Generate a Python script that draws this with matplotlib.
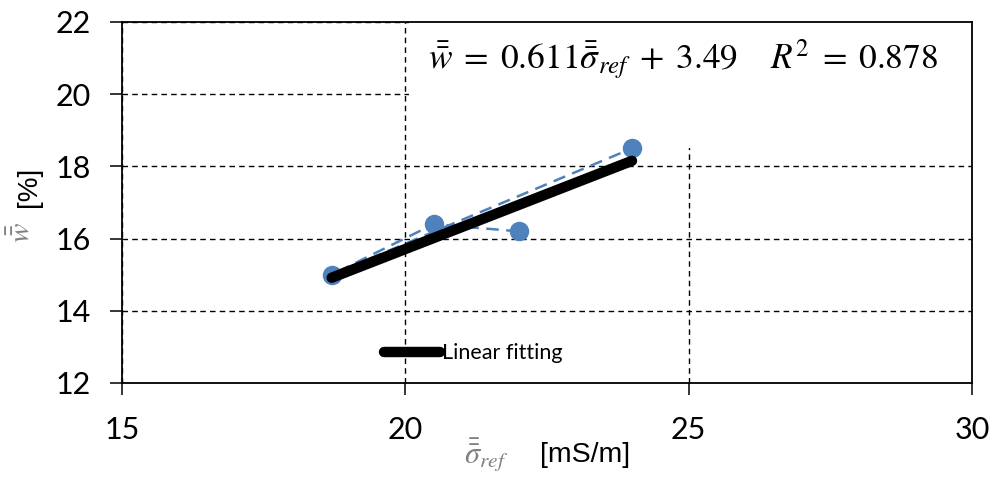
import numpy as np
import matplotlib.pyplot as plt
from matplotlib.patches import Rectangle

plt.rcParams['font.family'] = ['Lato', 'DejaVu Sans']
plt.rcParams['mathtext.fontset'] = 'stix'

# data (in plotted order)
sigma_ref = [22.0, 20.5, 18.7, 24.0]
w_mean = [16.2, 16.4, 15.0, 18.5]

# linear fit given on the chart
slope = 0.611
intercept = 3.49
r_squared = 0.878
fit_x = [min(sigma_ref), max(sigma_ref)]

x_ticks = [15, 20, 25, 30]
y_ticks = [12, 14, 16, 18, 20, 22]

fig = plt.figure(figsize=(9.95, 4.82), dpi=100)
ax = fig.add_axes([0.1226, 0.2054, 0.8543, 0.7490])

ax.set_xlim(15, 30)
ax.set_ylim(12, 22)
ax.set_xticks(x_ticks)
ax.set_yticks(y_ticks)
ax.tick_params(axis='both', direction='out', length=8.5, width=1.1,
               labelsize=22, color='black')
ax.tick_params(axis='x', pad=15)
ax.tick_params(axis='y', pad=14)
for s in ax.spines.values():
    s.set_linewidth(1.3)
    s.set_zorder(2.5)

ax.set_axisbelow(True)
ax.grid(True, color='black', linestyle=(0, (4, 3)), linewidth=1.0)

# white box behind the equation hides part of the grid
ax.add_patch(Rectangle((20.06, 18.5), 9.94, 3.5, facecolor='white',
                       edgecolor='none', zorder=1))

ax.plot(sigma_ref, w_mean, color='#4F81BD', linestyle=(0, (5, 3)),
        linewidth=1.8, marker='o', markersize=13, zorder=3)

fit_y = [slope * v + intercept for v in fit_x]
fit_line, = ax.plot(fit_x, fit_y, color='black', linewidth=7.5,
                    solid_capstyle='round', zorder=4, label='Linear fitting')

ax.legend(handles=[fit_line], loc='center left', bbox_to_anchor=(0.308, 0.082),
          frameon=False, fontsize=15.5, handlelength=2.6, handletextpad=0.12,
          borderpad=0, borderaxespad=0)

eq = (r'$\bar{\bar{w}}\;=\;%.3f\bar{\bar{\sigma}}_{ref}\;+\;%.2f\quad\;R^2\;=\;%.3f$'
      % (slope, intercept, r_squared))
ax.text(0.66, 0.895, eq, transform=ax.transAxes, fontsize=25.5,
        ha='center', va='center', zorder=5)

# axis labels (symbol in grey, unit in black)
fig.text(0.021, 0.517, r'$\bar{\bar{w}}$', rotation=90, fontsize=21,
         color='#808080', ha='center', va='center')
fig.text(0.029, 0.612, '[%]', rotation=90, fontsize=20,
         family='Liberation Sans', ha='center', va='center')
fig.text(0.466, 0.038, r'$\bar{\bar{\sigma}}_{ref}$', fontsize=22,
         color='#808080', ha='left', va='baseline')
fig.text(0.588, 0.056, '[mS/m]', fontsize=20.5, family='Liberation Sans',
         ha='center', va='center')

fig.savefig('out.png', dpi=100)
